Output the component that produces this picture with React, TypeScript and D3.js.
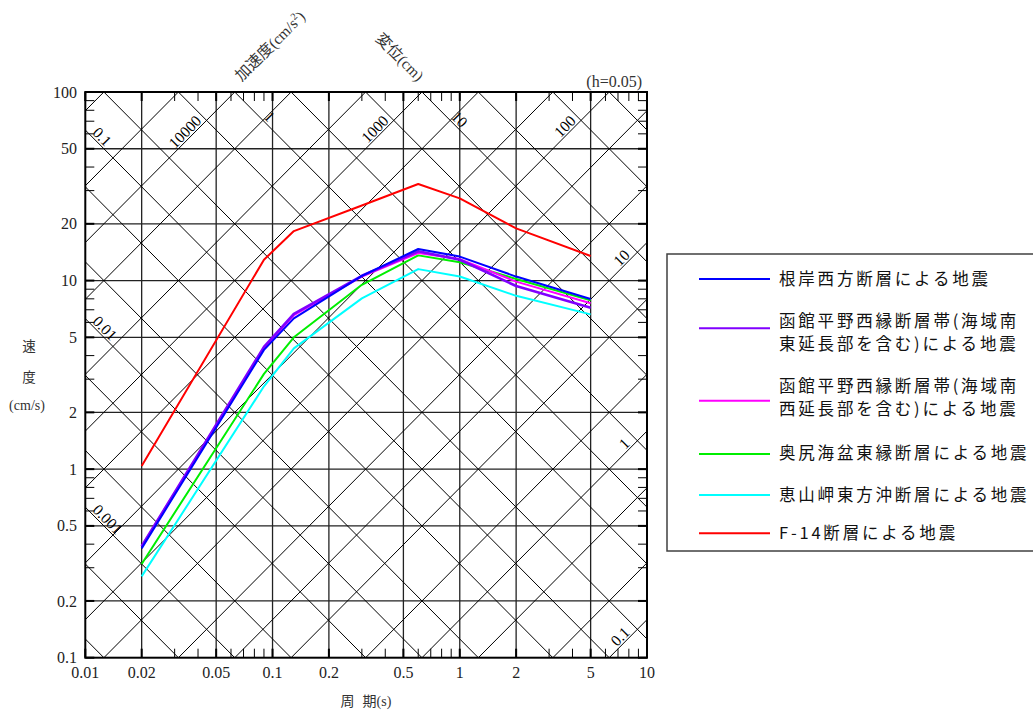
import React from 'react';
import * as d3 from 'd3';

// ---- data ----
const periods = [0.02, 0.09, 0.13, 0.3, 0.6, 1.0, 2.0, 5.0];
const nemuroWest = [0.38, 4.29, 6.3, 10.6, 14.7, 13.4, 10.5, 7.98];
const hakodateSE = [0.39, 4.45, 6.65, 10.6, 14.3, 12.9, 9.36, 7.18];
const hakodateSW = [0.39, 4.4, 6.55, 10.5, 14.0, 13.0, 9.87, 7.58];
const okushiriEast = [0.314, 3.2, 5.0, 9.5, 13.6, 12.5, 10.2, 7.85];
const esanEast = [0.27, 2.75, 4.37, 8.05, 11.5, 10.5, 8.3, 6.62];
const f14 = [1.04, 12.9, 18.3, 25.0, 32.5, 27.3, 18.9, 13.5];

const seriesValues = [nemuroWest, hakodateSE, hakodateSW, okushiriEast, esanEast, f14];
const seriesNames = [
  ['根岸西方断層による地震'],
  ['函館平野西縁断層帯(海域南', '東延長部を含む)による地震'],
  ['函館平野西縁断層帯(海域南', '西延長部を含む)による地震'],
  ['奥尻海盆東縁断層による地震'],
  ['恵山岬東方沖断層による地震'],
  ['F-14断層による地震'],
];
const seriesColors = ['#0000ff', '#8000ff', '#ff00ff', '#00ee00', '#00ffff', '#ff0000'];

const xTicks = [0.01, 0.02, 0.05, 0.1, 0.2, 0.5, 1, 2, 5, 10];
const xTickLabels = ['0.01', '0.02', '0.05', '0.1', '0.2', '0.5', '1', '2', '5', '10'];
const yTicks = [0.1, 0.2, 0.5, 1, 2, 5, 10, 20, 50, 100];
const yTickLabels = ['0.1', '0.2', '0.5', '1', '2', '5', '10', '20', '50', '100'];

const dispLeftLabels = [0.1, 0.01, 0.001];
const dispTopLabels = [1, 10];
const accTopLabels = [10000, 1000, 100];
const accRightLabels = [10, 1, 0.1];
const mantissas = [1, 2, 5];
const minorMantissas = [3, 4, 6, 7, 8, 9];

// ---- layout ----
const W = 1033;
const H = 713;
const PL = 85.3, PR = 647, PT = 92, PB = 657.7;
const serif = "'Liberation Serif', 'Noto Sans CJK JP', serif";
const sans = "'Noto Sans CJK JP', 'Noto Sans', sans-serif";
const TWO_PI = 2 * Math.PI;

const x = d3.scaleLog().domain([0.01, 10]).range([PL, PR]);
const y = d3.scaleLog().domain([0.1, 100]).range([PB, PT]);

function fmt(v: number) {
  return String(+v.toPrecision(6));
}

// point on a constant-displacement line: V = 2πD/T
function dispPt(D: number, T: number): [number, number] {
  return [x(T), y((TWO_PI * D) / T)];
}
// point on a constant-acceleration line: V = A T/(2π)
function accPt(A: number, T: number): [number, number] {
  return [x(T), y((A * T) / TWO_PI)];
}

function unit(a: [number, number], b: [number, number]): [number, number] {
  const dx = b[0] - a[0], dy = b[1] - a[1];
  const l = Math.hypot(dx, dy);
  return [dx / l, dy / l];
}

export default function App() {
  React.useEffect(() => {
    document.body.style.margin = '0';
    document.body.style.overflow = 'hidden';
  }, []);

  const dispValues: number[] = [];
  const accValues: number[] = [];
  for (let e = -6; e <= 4; e++) for (const m of mantissas) dispValues.push(m * Math.pow(10, e));
  for (let e = -3; e <= 6; e++) for (const m of mantissas) accValues.push(m * Math.pow(10, e));

  const minorX: number[] = [];
  for (let e = -2; e <= 0; e++) for (const m of minorMantissas) minorX.push(m * Math.pow(10, e));
  const minorY: number[] = [];
  for (let e = -1; e <= 1; e++) for (const m of minorMantissas) minorY.push(m * Math.pow(10, e));

  const line = d3
    .line<[number, number]>()
    .x((d) => x(d[0]))
    .y((d) => y(d[1]));

  const tickLen = 9;
  const diagFont = 15.5;

  // diagonal labels
  const diagLabels: React.ReactNode[] = [];
  dispLeftLabels.forEach((D, i) => {
    const p0 = dispPt(D, 0.01);
    const u = unit(p0, dispPt(D, 0.1));
    const p: [number, number] = [p0[0] + u[0] * 7, p0[1] + u[1] * 7];
    const ang = (Math.atan2(u[1], u[0]) * 180) / Math.PI;
    diagLabels.push(
      <text key={'dl' + i} x={p[0]} y={p[1]} dy={-2} fontSize={diagFont} fontFamily={serif}
        transform={`rotate(${ang},${p[0]},${p[1]})`}>{fmt(D)}</text>
    );
  });
  dispTopLabels.forEach((D, i) => {
    const T0 = (TWO_PI * D) / 100;
    const p0 = dispPt(D, T0);
    const u = unit(p0, dispPt(D, T0 * 10));
    const p: [number, number] = [p0[0] + u[0] * 38, p0[1] + u[1] * 38];
    const ang = (Math.atan2(u[1], u[0]) * 180) / Math.PI;
    diagLabels.push(
      <text key={'dt' + i} x={p[0]} y={p[1]} dy={-2} fontSize={diagFont} fontFamily={serif}
        transform={`rotate(${ang},${p[0]},${p[1]})`}>{fmt(D)}</text>
    );
  });
  accTopLabels.forEach((A, i) => {
    const T0 = (TWO_PI * 100) / A;
    const p0 = accPt(A, T0);
    const uDown = unit(p0, accPt(A, T0 / 10));
    const p: [number, number] = [p0[0] + uDown[0] * 44, p0[1] + uDown[1] * 44];
    const ang = (Math.atan2(-uDown[1], -uDown[0]) * 180) / Math.PI;
    diagLabels.push(
      <text key={'at' + i} x={p[0]} y={p[1]} dy={-2} fontSize={diagFont} fontFamily={serif} textAnchor="end"
        transform={`rotate(${ang},${p[0]},${p[1]})`}>{fmt(A)}</text>
    );
  });
  accRightLabels.forEach((A, i) => {
    const p0 = accPt(A, 10);
    const uDown = unit(p0, accPt(A, 1));
    const p: [number, number] = [p0[0] + uDown[0] * 21, p0[1] + uDown[1] * 21];
    const ang = (Math.atan2(-uDown[1], -uDown[0]) * 180) / Math.PI;
    diagLabels.push(
      <text key={'ar' + i} x={p[0]} y={p[1]} dy={-2} fontSize={diagFont} fontFamily={serif} textAnchor="end"
        transform={`rotate(${ang},${p[0]},${p[1]})`}>{fmt(A)}</text>
    );
  });

  const legendCenters = [279, 321, 386, 453.3, 495, 533.3];
  const legendLineY = [279, 328.3, 400.7, 454, 495, 533.3];
  const legendLineGap = 23;
  const drawOrder = [5, 4, 3, 2, 1, 0];

  return (
    <svg width={W} height={H} style={{ position: 'absolute', left: 0, top: 0, background: '#fff' }}>
      <defs>
        <clipPath id="plotClip">
          <rect x={PL} y={PT} width={PR - PL} height={PB - PT} />
        </clipPath>
      </defs>
      <rect x={0} y={0} width={W} height={H} fill="#fff" />

      {/* grid */}
      {xTicks.slice(1, -1).map((t, i) => (
        <line key={'gx' + i} x1={x(t)} x2={x(t)} y1={PT} y2={PB} stroke="#222" strokeWidth={1.3} />
      ))}
      {yTicks.slice(1, -1).map((t, i) => (
        <line key={'gy' + i} x1={PL} x2={PR} y1={y(t)} y2={y(t)} stroke="#222" strokeWidth={1.3} />
      ))}

      {/* diagonal tripartite lines */}
      <g clipPath="url(#plotClip)" stroke="#000" strokeWidth={1} fill="none">
        {dispValues.map((D, i) => {
          const a = dispPt(D, 0.001), b = dispPt(D, 100);
          return <line key={'d' + i} x1={a[0]} y1={a[1]} x2={b[0]} y2={b[1]} />;
        })}
        {accValues.map((A, i) => {
          const a = accPt(A, 0.001), b = accPt(A, 100);
          return <line key={'a' + i} x1={a[0]} y1={a[1]} x2={b[0]} y2={b[1]} />;
        })}
      </g>

      {/* minor ticks */}
      <g stroke="#000" strokeWidth={1}>
        {minorX.map((t, i) => (
          <g key={'mx' + i}>
            <line x1={x(t)} x2={x(t)} y1={PB} y2={PB - tickLen} />
            <line x1={x(t)} x2={x(t)} y1={PT} y2={PT + tickLen} />
          </g>
        ))}
        {minorY.map((t, i) => (
          <g key={'my' + i}>
            <line x1={PL} x2={PL + tickLen} y1={y(t)} y2={y(t)} />
            <line x1={PR} x2={PR - tickLen} y1={y(t)} y2={y(t)} />
          </g>
        ))}
      </g>
      <g stroke="#000" strokeWidth={2}>
        {xTicks.map((t, i) => (
          <g key={'Mx' + i}>
            <line x1={x(t)} x2={x(t)} y1={PB} y2={PB - tickLen} />
            <line x1={x(t)} x2={x(t)} y1={PT} y2={PT + tickLen} />
          </g>
        ))}
        {yTicks.map((t, i) => (
          <g key={'My' + i}>
            <line x1={PL} x2={PL + tickLen} y1={y(t)} y2={y(t)} />
            <line x1={PR} x2={PR - tickLen} y1={y(t)} y2={y(t)} />
          </g>
        ))}
      </g>

      {/* series */}
      <g clipPath="url(#plotClip)" fill="none">
        {drawOrder.map((si) => (
          <path
            key={'s' + si}
            d={line(periods.map((p, j) => [p, seriesValues[si][j]] as [number, number])) || ''}
            stroke={seriesColors[si]}
            strokeWidth={si === 1 ? 2.6 : 2}
            strokeLinejoin="round"
          />
        ))}
      </g>

      {/* frame */}
      <rect x={PL} y={PT} width={PR - PL} height={PB - PT} fill="none" stroke="#000" strokeWidth={2} />

      {diagLabels}

      {/* tick labels */}
      {xTicks.map((t, i) => (
        <text key={'xl' + i} x={x(t)} y={PB + 20} textAnchor="middle" fontSize={16} fontFamily={serif} fill="#222">
          {xTickLabels[i]}
        </text>
      ))}
      {yTicks.map((t, i) => (
        <text key={'yl' + i} x={77} y={y(t)} dy="0.35em" textAnchor="end" fontSize={16} fontFamily={serif} fill="#222">
          {yTickLabels[i]}
        </text>
      ))}

      {/* axis titles */}
      <text x={366} y={706} textAnchor="middle" fontSize={14} fontFamily={serif} fill="#333">
        周<tspan dx={8}>期(s)</tspan>
      </text>
      <text x={29} y={346} dy="0.35em" textAnchor="middle" fontSize={13.5} fontFamily={serif} fill="#333">速</text>
      <text x={29} y={377} dy="0.35em" textAnchor="middle" fontSize={13.5} fontFamily={serif} fill="#333">度</text>
      <text x={27} y={405} dy="0.35em" textAnchor="middle" fontSize={14} fontFamily={serif} fill="#333">(cm/s)</text>
      <text x={642} y={87} textAnchor="end" fontSize={16} fontFamily={serif} fill="#333">(h=0.05)</text>
      <text x={270} y={46} dy="0.35em" textAnchor="middle" fontSize={15.5} fontFamily={serif} fill="#333"
        transform="rotate(-45,270,46)">
        加速度(cm/s<tspan fontSize={10} dy={-6}>2</tspan><tspan dy={6}>)</tspan>
      </text>
      <text x={400} y={57} dy="0.35em" textAnchor="middle" fontSize={15.5} fontFamily={serif} fill="#333"
        transform="rotate(45,400,57)">
        変位(cm)
      </text>

      {/* legend */}
      <rect x={667} y={254} width={420} height={297} fill="#fff" stroke="#404040" strokeWidth={1.5} />
      {seriesNames.map((lines, i) => (
        <g key={'lg' + i}>
          <line x1={699} x2={770} y1={legendLineY[i]} y2={legendLineY[i]} stroke={seriesColors[i]} strokeWidth={2} />
          {lines.map((ln, k) => (
            <text key={k} x={779} y={legendCenters[i] + k * legendLineGap} dy="0.35em" fontSize={16.5}
              letterSpacing={2.8} fontFamily={sans} fill="#111">
              {ln}
            </text>
          ))}
        </g>
      ))}
    </svg>
  );
}
